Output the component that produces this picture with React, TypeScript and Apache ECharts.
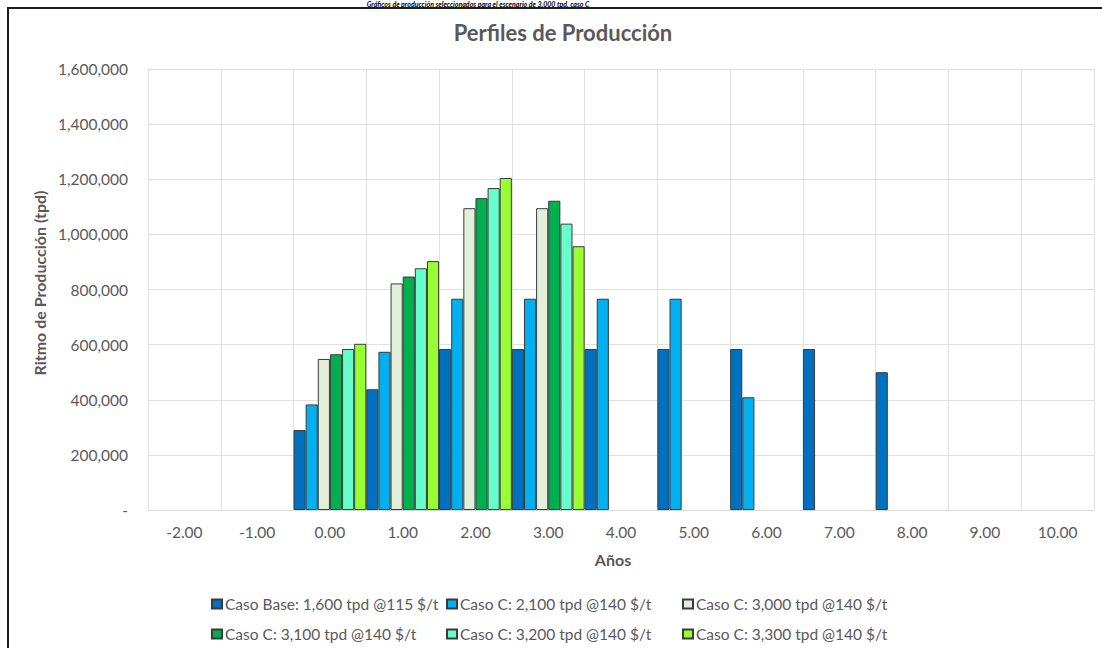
import React, { useEffect, useRef } from "react";
import * as echarts from "echarts";

const categories = ["-2.00", "-1.00", "0.00", "1.00", "2.00", "3.00", "4.00", "5.00", "6.00", "7.00", "8.00", "9.00", "10.00"];

const seriesNames = [
  "Caso Base: 1,600 tpd @115 $/t",
  "Caso C: 2,100 tpd @140 $/t",
  "Caso C: 3,000 tpd @140 $/t",
  "Caso C: 3,100 tpd @140 $/t",
  "Caso C: 3,200 tpd @140 $/t",
  "Caso C: 3,300 tpd @140 $/t",
];

const casoBase = [null, null, 290000, 438000, 584000, 584000, 584000, 584000, 584000, 584000, 500000, null, null];
const caso2100 = [null, null, 383000, 574000, 766500, 766500, 766500, 766500, 409000, null, null, null, null];
const caso3000 = [null, null, 548000, 822000, 1095000, 1095000, null, null, null, null, null, null, null];
const caso3100 = [null, null, 565000, 847000, 1131500, 1122000, null, null, null, null, null, null, null];
const caso3200 = [null, null, 584000, 877000, 1168000, 1039000, null, null, null, null, null, null, null];
const caso3300 = [null, null, 603000, 903000, 1204500, 957000, null, null, null, null, null, null, null];

const seriesData = [casoBase, caso2100, caso3000, caso3100, caso3200, caso3300];
const colors = ["#0070C0", "#00B0F0", "#E2EFDA", "#00B050", "#66FFCC", "#99FF33"];

const yTicks = { min: 0, max: 1600000, interval: 200000 };

const FONT = "Lato, 'Open Sans', sans-serif";
const GREY = "#595959";

const legendPos = [
  { left: 211, top: 596 },
  { left: 446, top: 596 },
  { left: 682, top: 596 },
  { left: 211, top: 626 },
  { left: 446, top: 626 },
  { left: 682, top: 626 },
];

export default function App() {
  const ref = useRef<HTMLDivElement>(null);
  useEffect(() => {
    if (!ref.current) return;
    const chart = echarts.init(ref.current, null, { renderer: "svg" });
    chart.setOption({
      animation: false,
      backgroundColor: "#ffffff",
      textStyle: { fontFamily: FONT },
      title: {
        text: "Perfiles de Producción",
        left: 558,
        top: 16,
        textAlign: "center",
        textStyle: { fontFamily: FONT, fontSize: 22, fontWeight: "bold", color: GREY },
      },
      grid: { left: 148, right: 8, top: 69, bottom: 138, containLabel: false },
      legend: seriesNames.map((n, i) => ({
        data: [n],
        left: legendPos[i].left,
        top: legendPos[i].top,
        padding: 0,
        icon: "rect",
        itemWidth: 10,
        itemHeight: 9,
        itemGap: 4,
        selectedMode: false,
        textStyle: { fontFamily: FONT, fontSize: 15.5, color: GREY, padding: [0, 0, 0, -2] },
      })),
      xAxis: {
        type: "category",
        data: categories,
        boundaryGap: true,
        axisLine: { lineStyle: { color: "#d9d9d9", width: 1 } },
        axisTick: { show: false },
        axisLabel: { color: GREY, fontSize: 15.5, margin: 14, fontFamily: FONT },
        splitLine: { show: true, lineStyle: { color: "#e0e0e0", width: 1 } },
      },
      yAxis: {
        type: "value",
        min: yTicks.min,
        max: yTicks.max,
        interval: yTicks.interval,
        axisLine: { show: false },
        axisTick: { show: false },
        axisLabel: {
          color: GREY,
          fontSize: 15.5,
          margin: 20,
          fontFamily: FONT,
          formatter: (v: number) => (v === 0 ? "-" : v.toLocaleString("en-US")),
        },
        splitLine: { lineStyle: { color: "#e0e0e0", width: 1 } },
      },
      series: seriesNames.map((n, i) => ({
        name: n,
        type: "bar",
        data: seriesData[i],
        barGap: "0%",
        barCategoryGap: "0%",
        itemStyle: { color: colors[i], borderColor: "#3a3a3a", borderWidth: 1 },
      })),
      graphic: [
        {
          type: "rect",
          shape: { x: 8, y: 8, width: 1120, height: 700 },
          style: { fill: "none", stroke: "#1e1e1e", lineWidth: 2 },
          silent: true,
        },
        {
          type: "text",
          x: 478,
          y: 0,
          style: {
            text: "Gráficos de producción seleccionados para el escenario de 3,000 tpd, caso C",
            align: "center",
            verticalAlign: "top",
            fontSize: 7,
            fontStyle: "italic",
            fontWeight: "bold",
            fontFamily: FONT,
            fill: "#000000",
          },
          silent: true,
        },
        {
          type: "text",
          x: 39,
          y: 283,
          rotation: Math.PI / 2,
          style: {
            text: "Ritmo de Producción (tpd)",
            align: "center",
            verticalAlign: "middle",
            fontSize: 16,
            fontWeight: "bold",
            fontFamily: FONT,
            fill: GREY,
          },
        },
        {
          type: "text",
          x: 613,
          y: 559,
          style: {
            text: "Años",
            align: "center",
            verticalAlign: "middle",
            fontSize: 16,
            fontWeight: "bold",
            fontFamily: FONT,
            fill: GREY,
          },
        },
      ],
    });
    return () => chart.dispose();
  }, []);
  return (
    <div
      ref={ref}
      style={{ position: "fixed", left: 0, top: 0, width: 1102, height: 648, background: "#fff" }}
    />
  );
}
